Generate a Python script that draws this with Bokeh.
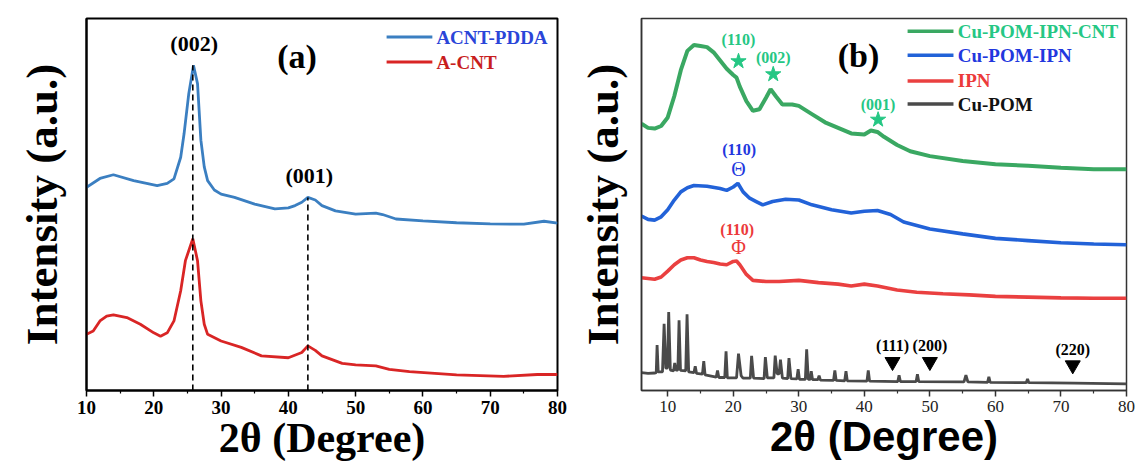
from bokeh.plotting import figure
from bokeh.layouts import row
from bokeh.models import Range1d, FixedTicker, Label
from bokeh.embed import file_html
from bokeh.resources import INLINE

# ---------------- Panel (a) data ----------------
a_x_pdda = [10, 12, 14, 17, 20.5, 22, 23, 24, 24.5, 25.2, 25.9, 26.5, 27, 27.5, 28, 29, 30, 32, 35, 38,
            40, 41, 42, 42.9, 44, 45, 47, 50, 53, 54, 56, 60, 65, 70, 75, 78, 80]
a_y_pdda = [54.6, 57.0, 58.0, 56.4, 55.1, 55.7, 56.9, 62.7, 69.0, 79.8, 87.4, 82.5, 67.3, 60.1, 56.4, 53.9,
            52.8, 51.9, 50.1, 48.8, 49.1, 49.7, 50.6, 51.9, 51.2, 49.7, 48.3, 47.4, 47.7, 47.3, 46.1, 45.6,
            45.1, 44.8, 44.7, 45.5, 45.0]
a_x_acnt = [10, 11, 12, 13, 14, 16, 18, 20, 21, 22, 23, 24, 24.7, 25.8, 26.5, 27, 27.5, 28, 30, 33, 36,
            40, 42, 42.9, 44, 45, 48, 50, 53, 55, 58, 65, 72, 77, 80]
a_y_acnt = [15.1, 16.0, 18.7, 20.0, 20.3, 19.6, 17.8, 15.5, 14.6, 15.5, 18.7, 26.8, 34.9, 40.8, 34.9, 24.1,
            17.8, 15.1, 13.3, 11.6, 9.3, 8.8, 10.2, 12.0, 10.8, 9.3, 7.3, 6.9, 6.6, 5.7, 5.1, 4.2, 3.8, 4.3, 4.3]
a_series = ["ACNT-PDDA", "A-CNT"]
a_peak_x = [25.8, 42.9]
a_peak_top = [87.4, 51.9]
a_peak_text = ["(002)", "(001)"]
a_peak_text_y = [93.3, 57.8]
a_ticks = [10, 20, 30, 40, 50, 60, 70, 80]

# ---------------- Panel (b) data ----------------
b_x_cnt = [6, 7, 8, 9, 10, 11, 12, 13, 14, 15, 16, 17, 18, 19, 20, 20.5, 21, 22, 23, 24, 25, 25.7, 26.5,
           27.5, 29, 30, 32, 34, 36, 38, 40, 41, 42, 43, 45, 47, 50, 55, 60, 65, 70, 75, 80]
b_y_cnt = [71.7, 70.6, 70.4, 71.1, 73.4, 79.1, 86.1, 91.3, 92.9, 92.6, 92.3, 90.9, 88.7, 86.5, 84.8, 84.1,
           81.7, 77.8, 75.2, 75.6, 78.7, 81.0, 79.1, 76.9, 76.9, 76.5, 74.3, 72.1, 70.6, 69.1, 68.8, 69.9,
           69.5, 68.2, 66.0, 64.3, 63.0, 61.7, 60.8, 60.4, 59.9, 59.5, 59.5]
b_x_ipn_pom = [6, 7, 8, 9, 10, 11, 12, 13, 14, 16, 18, 19, 20, 20.7, 21.5, 22.5, 23.5, 24.5, 26, 28, 30,
               32, 35, 38, 40, 42, 44, 46, 50, 55, 60, 65, 70, 75, 80]
b_y_ipn_pom = [46.9, 46.0, 45.8, 46.7, 48.6, 51.2, 53.4, 54.5, 55.1, 54.9, 54.3, 53.8, 54.7, 55.7, 53.4,
               51.7, 50.8, 49.9, 50.8, 51.4, 51.2, 49.9, 48.6, 47.7, 48.2, 48.4, 47.3, 45.3, 43.4, 42.1,
               40.9, 40.3, 39.7, 39.4, 39.2]
b_x_ipn = [6, 7, 8, 9, 10, 11, 12, 13, 14, 15, 16, 17, 18, 19, 20, 20.5, 21, 22, 23, 25, 27, 30, 33, 36,
           38, 40, 42, 45, 48, 52, 56, 60, 65, 70, 75, 80]
b_y_ipn = [30.3, 30.1, 29.9, 30.5, 32.1, 33.8, 35.1, 35.7, 35.7, 35.1, 34.7, 34.4, 34.0, 33.8, 34.7, 34.8,
           33.8, 31.2, 29.6, 29.3, 29.3, 29.6, 29.0, 28.6, 28.1, 28.6, 28.1, 27.0, 26.4, 26.0, 25.7, 25.3,
           25.1, 24.9, 24.8, 24.8]
b_x_pom = [6.0, 7.0, 8.0, 8.25, 8.38, 8.55, 9.2, 9.45, 9.7, 9.95, 10.15, 10.4, 10.9, 11.07, 11.25, 11.55,
           11.73, 11.95, 12.75, 12.95, 13.2, 14.0, 14.2, 14.4, 15.3, 15.5, 15.7, 17.4, 17.6, 17.8, 18.7,
           18.9, 19.1, 20.5, 20.8, 21.2, 21.5, 22.6, 22.8, 23.1, 24.7, 24.9, 25.2, 26.2, 26.4, 26.7, 27.0,
           27.2, 27.5, 28.3, 28.5, 28.8, 29.7, 29.9, 30.1, 31.0, 31.2, 31.45, 31.75, 31.9, 32.1, 32.9, 33.1,
           33.3, 35.3, 35.5, 35.7, 37.0, 37.2, 37.4, 40.4, 40.6, 40.8, 45.1, 45.3, 45.5, 47.9, 48.1, 48.3,
           55.2, 55.5, 55.8, 58.8, 59.0, 59.2, 64.7, 64.9, 65.1, 72.0, 80.0]
b_y_pom = [4.8, 4.6, 4.7, 4.8, 12.2, 5.0, 5.0, 17.9, 6.0, 6.0, 21.1, 5.5, 5.3, 7.4, 5.5, 5.5,
           18.9, 5.4, 5.3, 20.5, 5.0, 4.8, 6.5, 4.6, 4.4, 7.9, 4.2, 3.6, 5.4, 3.5, 3.5,
           10.5, 3.4, 3.4, 9.9, 4.0, 3.3, 3.3, 9.3, 3.3, 3.2, 9.0, 3.4, 3.4, 9.4, 4.5, 4.5,
           8.3, 3.3, 3.2, 8.7, 3.2, 3.1, 5.7, 3.0, 3.0, 11.1, 3.0, 3.0, 5.2, 2.9, 2.9, 4.0,
           2.8, 2.7, 5.4, 2.7, 2.6, 5.2, 2.6, 2.5, 5.4, 2.5, 2.4, 4.1, 2.4, 2.4, 4.4, 2.4,
           2.3, 4.1, 2.3, 2.2, 3.7, 2.2, 2.1, 3.1, 2.1, 2.0, 1.8]
b_series = ["Cu-POM-IPN-CNT", "Cu-POM-IPN", "IPN", "Cu-POM"]
b_star_x = [20.8, 26.1, 42.1]
b_star_y = [88.5, 85.0, 72.8]
b_star_text = ["(110)", "(002)", "(001)"]
b_star_text_y = [94.3, 89.5, 76.9]
b_tri_x = [44.3, 50.0, 71.8]
b_tri_y = [7.7, 7.7, 6.8]
b_tri_text = ["(111)", "(200)", "(220)"]
b_tri_text_y = [12.0, 12.0, 11.1]
b_ticks = [10, 20, 30, 40, 50, 60, 70, 80]

SERIF = "Liberation Serif"
SANS = "Liberation Sans"
XLABEL = "2\u03b8 (Degree)"
YLABEL = "Intensity (a.u.)"


def style_axes(p, tick_size, tick_style, tick_color, outline_w, outline_c, tick_standoff,
               xlab_font, xlab_standoff, ylab_standoff, ticks):
    p.xgrid.visible = False
    p.ygrid.visible = False
    p.outline_line_color = outline_c
    p.outline_line_width = outline_w
    p.background_fill_color = "white"
    p.border_fill_color = "white"
    xa = p.xaxis[0]
    xa.ticker = FixedTicker(ticks=ticks, minor_ticks=[t + 5 for t in ticks] + [ticks[0] - 5])
    xa.axis_line_color = outline_c
    xa.axis_line_width = outline_w
    xa.major_tick_line_color = outline_c
    xa.major_tick_line_width = 1.5
    xa.major_tick_in = 0
    xa.major_tick_out = 6
    xa.minor_tick_line_color = outline_c
    xa.minor_tick_line_width = 1.2
    xa.minor_tick_in = 0
    xa.minor_tick_out = 3
    xa.major_label_text_font = SERIF
    xa.major_label_text_font_size = tick_size
    xa.major_label_text_font_style = tick_style
    xa.major_label_text_color = tick_color
    xa.major_label_standoff = tick_standoff
    xa.axis_label = XLABEL
    xa.axis_label_text_font = xlab_font
    xa.axis_label_text_font_style = "bold"
    xa.axis_label_text_font_size = "42px"
    xa.axis_label_text_color = "black"
    xa.axis_label_standoff = xlab_standoff
    ya = p.yaxis[0]
    ya.ticker = FixedTicker(ticks=[])
    ya.axis_line_color = outline_c
    ya.axis_line_width = outline_w
    ya.major_tick_line_color = None
    ya.minor_tick_line_color = None
    ya.axis_label = YLABEL
    ya.axis_label_text_font = SERIF
    ya.axis_label_text_font_style = "bold"
    ya.axis_label_text_font_size = "45px"
    ya.axis_label_text_color = "black"
    ya.axis_label_standoff = ylab_standoff


def add_text(p, x, y, text, size, color, font=SERIF, style="bold", align="center"):
    p.add_layout(Label(x=x, y=y, text=text, text_font=font, text_font_style=style,
                       text_font_size=size, text_color=color, text_align=align,
                       text_baseline="middle"))


# ---------------- Figure (a) ----------------
pa = figure(width=574, height=469, x_range=Range1d(10, 80), y_range=Range1d(0, 100),
            output_backend="svg", toolbar_location=None,
            min_border_left=86, min_border_right=17, min_border_top=18, min_border_bottom=79)
style_axes(pa, "19px", "bold", "black", 2, "black", 4, SERIF, -2, 20, a_ticks)

a_colors = ["#3b7fc1", "#d92525"]
a_text_colors = ["#2a45d8", "#c81e1e"]
pa.line(a_x_pdda, a_y_pdda, line_color=a_colors[0], line_width=2.8)
pa.line(a_x_acnt, a_y_acnt, line_color=a_colors[1], line_width=2.8)
pa.segment(x0=a_peak_x, y0=[0, 0], x1=a_peak_x, y1=a_peak_top, line_color="black",
           line_width=1.6, line_dash="6 4")
for px, py, t in zip(a_peak_x, a_peak_text_y, a_peak_text):
    add_text(pa, px + 0.2, py, t, "22px", "black")
add_text(pa, 41.3, 89.7, "(a)", "34px", "black")
# legend (a)
a_leg_y = [95.0, 88.3]
pa.segment(x0=[54.6] * 2, y0=a_leg_y, x1=[61.4] * 2, y1=a_leg_y, line_color=a_colors, line_width=3)
for yy, name, c in zip(a_leg_y, a_series, a_text_colors):
    add_text(pa, 62.0, yy, name, "19px", c, align="left")

# ---------------- Figure (b) ----------------
pb = figure(width=564, height=469, x_range=Range1d(6, 80), y_range=Range1d(0, 100),
            output_backend="svg", toolbar_location=None,
            min_border_left=66, min_border_right=12, min_border_top=13, min_border_bottom=74)
style_axes(pb, "17px", "normal", "#222222", 1.5, "#333333", 4, SANS, -2, 14, b_ticks)

b_colors = ["#3aa862", "#2262d8", "#ea4040", "#4a4a4a"]
b_text_colors = ["#25c784", "#2237de", "#ec3a3a", "#111111"]
pb.line(b_x_cnt, b_y_cnt, line_color=b_colors[0], line_width=4)
pb.line(b_x_ipn_pom, b_y_ipn_pom, line_color=b_colors[1], line_width=3.6)
pb.line(b_x_ipn, b_y_ipn, line_color=b_colors[2], line_width=3.6)
pb.line(b_x_pom, b_y_pom, line_color=b_colors[3], line_width=2.8)

pb.scatter(b_star_x, b_star_y, marker="star", size=16, fill_color="#25c784", line_color="#25c784")
for sx, sy, t in zip(b_star_x, b_star_text_y, b_star_text):
    add_text(pb, sx, sy, t, "16px", "#25c784")
add_text(pb, 20.9, 64.7, "(110)", "16px", "#2237de")
add_text(pb, 20.8, 59.5, "\u0398", "20px", "#2237de", style="normal")
add_text(pb, 20.6, 43.4, "(110)", "16px", "#ec3a3a")
add_text(pb, 20.8, 38.6, "\u03a6", "20px", "#ec3a3a", style="normal")
pb.scatter(b_tri_x, b_tri_y, marker="inverted_triangle", size=15, fill_color="black", line_color="black")
for tx, ty, t in zip(b_tri_x, b_tri_text_y, b_tri_text):
    add_text(pb, tx, ty, t, "16px", "black")
add_text(pb, 39.1, 90.0, "(b)", "34px", "black")
# legend (b)
b_leg_y = [96.6, 90.1, 83.2, 77.0]
pb.segment(x0=[46.6] * 4, y0=b_leg_y, x1=[53.6] * 4, y1=b_leg_y, line_color=b_colors, line_width=3.5)
for yy, name, c in zip(b_leg_y, b_series, b_text_colors):
    add_text(pb, 54.25, yy, name, "19px", c, align="left")

layout = row(pa, pb)
open("out.html", "w").write(file_html(layout, INLINE))
